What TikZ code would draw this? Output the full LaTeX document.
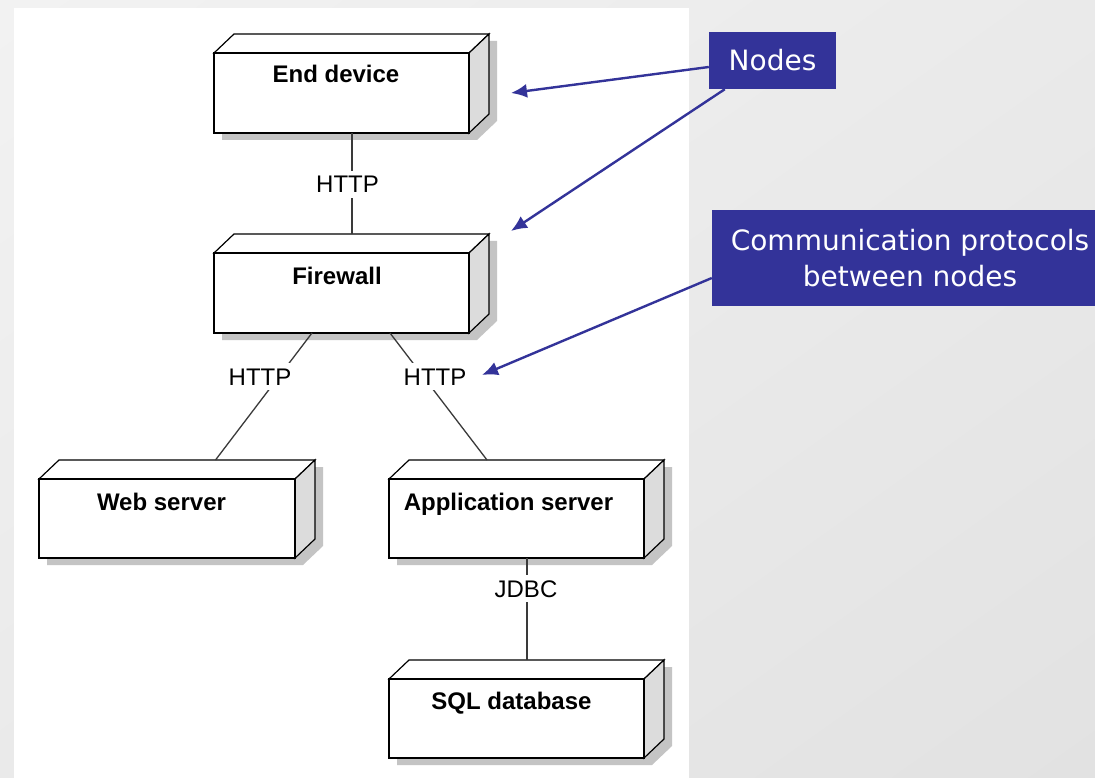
\documentclass[tikz,border=0pt]{standalone}
\usepackage{fontspec}
\setmainfont{Liberation Sans}
\newfontfamily\calloutfont{DejaVu Sans}
\usetikzlibrary{arrows.meta,shadings}

\definecolor{slideblue}{HTML}{333399}
\definecolor{shadowgray}{HTML}{C4C4C4}
\definecolor{sidegray}{HTML}{DCDCDC}
\definecolor{wiregray}{HTML}{3A3A3A}
\definecolor{bglight}{HTML}{F2F2F2}
\definecolor{bgmid}{HTML}{EAEAEA}
\definecolor{bgdark}{HTML}{E2E2E2}

\tikzset{
  nodeshadow/.style={fill=shadowgray, draw=none},
  topface/.style={fill=white, draw=black, line width=1.2pt, line join=miter},
  sideface/.style={fill=sidegray, draw=black, line width=1.2pt, line join=miter},
  frontface/.style={rectangle, fill=white, draw=black, line width=1.2pt, inner sep=0pt, outer sep=0pt},
  nodetitle/.style={anchor=base, inner sep=0pt, font=\bfseries\fontsize{24}{28}\selectfont},
  wire/.style={draw=wiregray, line width=1.3pt},
  protocol/.style={anchor=base, fill=white, inner xsep=1pt, inner ysep=5pt, font=\fontsize{24}{28}\selectfont},
  callout/.style={rectangle, fill=slideblue, text=white, inner sep=0pt, align=center,
    font=\calloutfont\fontsize{28}{36}\selectfont},
  callarrow/.style={draw=slideblue, line width=2.4pt, -{Latex[length=16pt,width=14pt]}}
}

% deployment node: name, left, top, right, bottom of the front face
\newcommand\depnode[5]{%
  \pgfmathsetmacro\dnW{#4-#2}%
  \pgfmathsetmacro\dnH{#5-#3}%
  \fill[nodeshadow] (#2+8,#5+7) -- (#4+8,#5+7) -- (#4+28,#5-12) -- (#4+28,#3-12)
        -- (#2+28,#3-12) -- (#2+8,#3+7) -- cycle;
  \filldraw[topface] (#2,#3) -- (#2+20,#3-19) -- (#4+20,#3-19) -- (#4,#3) -- cycle;
  \filldraw[sideface] (#4,#3) -- (#4+20,#3-19) -- (#4+20,#5-19) -- (#4,#5) -- cycle;
  \node[frontface, minimum width=\dnW pt, minimum height=\dnH pt] (#1)
        at ({(#2+#4)/2},{(#3+#5)/2}) {};
}

\begin{document}
\begin{tikzpicture}[x=1pt, y=-1pt]
\useasboundingbox (0,0) rectangle (1095,778);

% slide background and white panel
\shade[upper left=bglight, upper right=bgmid, lower left=bgmid, lower right=bgdark]
  (0,0) rectangle (1095,778);
\fill[white] (14,8) rectangle (689,778);

% deployment nodes
\depnode{ed}{214}{53}{469}{133}
\depnode{fw}{214}{253}{469}{333}
\depnode{ws}{39}{479}{295}{558}
\depnode{as}{389}{479}{644}{558}
\depnode{db}{389}{679}{644}{758}

\node[nodetitle] (edt) at (336,83) {End device};
\node[nodetitle] (fwt) at (337,284) {Firewall};
\node[nodetitle] (wst) at (161.5,510) {Web server};
\node[nodetitle] (ast) at (508.5,510) {Application server};
\node[nodetitle] (dbt) at (511.5,709) {SQL database};

% communication paths
\draw[wire] ([xshift=10.5]ed.south) -- ([xshift=10.5, yshift=19]fw.north);
\draw[wire] ([xshift=-29.5]fw.south) -- ([xshift=48.5, yshift=19]ws.north);
\draw[wire] ([xshift=48.5]fw.south) -- ([xshift=-29.5, yshift=19]as.north);
\draw[wire] ([xshift=10.5]as.south) -- ([xshift=10.5, yshift=19]db.north);

\node[protocol] (p1) at (347.5,193) {HTTP};
\node[protocol] (p2) at (260,385) {HTTP};
\node[protocol] (p3) at (435,385) {HTTP};
\node[protocol] (p4) at (526,597) {JDBC};

% callouts
\node[callout, minimum width=127pt, minimum height=57pt] (nodes) at (772.5,60.5) {Nodes};
\node[callout, minimum width=396pt, minimum height=96pt] (comm) at (910,258)
  {Communication protocols\\between nodes};

\coordinate (tipa) at (511,93);
\coordinate (tipb) at (511,231);
\coordinate (tipc) at (482,375);

\draw[callarrow] ([yshift=-6.5]nodes.west) -- (tipa);
\draw[callarrow] ([xshift=16]nodes.south west) -- (tipb);
\draw[callarrow] ([yshift=-20]comm.west) -- (tipc);
\end{tikzpicture}
\end{document}
